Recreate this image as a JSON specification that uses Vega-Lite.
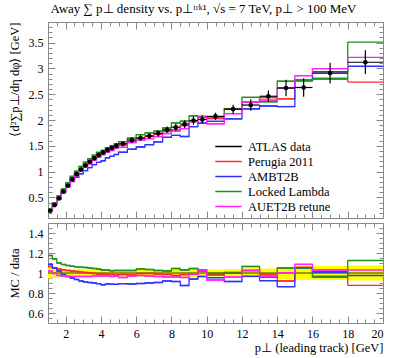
{
"$schema": "https://vega.github.io/schema/vega-lite/v6.json",
"config": {"font": "Liberation Serif", "view": {"stroke": "#888", "strokeWidth": 1},
 "axis": {"domain": false, "grid": false, "tickColor": "#888", "labelFont": "Liberation Serif", "labelFontSize": 12, "labelColor": "#000", "titleFont": "Liberation Serif", "titleFontSize": 12.5, "titleFontWeight": "normal", "titleColor": "#000"},
 "legend": {"labelFont": "Liberation Serif", "labelFontSize": 12.5, "labelColor": "#000"},
 "text": {"font": "Liberation Serif"}},
"title": {"text": "Away ∑ p⊥ density vs. p⊥ᵗʳᵏ¹, √s = 7 TeV, p⊥ > 100 MeV", "anchor": "start", "fontSize": 13, "fontWeight": "normal", "font": "Liberation Serif", "offset": 5, "dx": 43},
"padding": {"left": 7, "right": 12, "top": 3, "bottom": 2},
"spacing": 5,
"bounds": "flush",
"datasets": {
"data": [
{"lo":1,"hi":1.25,"x":1.125,"y":0.24,"err":0.013,"blo":0.945,"bhi":1.055},
{"lo":1.25,"hi":1.5,"x":1.375,"y":0.35,"err":0.018,"blo":0.95,"bhi":1.05},
{"lo":1.5,"hi":1.75,"x":1.625,"y":0.48,"err":0.022,"blo":0.955,"bhi":1.045},
{"lo":1.75,"hi":2,"x":1.875,"y":0.61,"err":0.027,"blo":0.955,"bhi":1.045},
{"lo":2,"hi":2.25,"x":2.125,"y":0.73,"err":0.029,"blo":0.96,"bhi":1.04},
{"lo":2.25,"hi":2.5,"x":2.375,"y":0.85,"err":0.034,"blo":0.96,"bhi":1.04},
{"lo":2.5,"hi":2.75,"x":2.625,"y":0.95,"err":0.038,"blo":0.96,"bhi":1.04},
{"lo":2.75,"hi":3,"x":2.875,"y":1.04,"err":0.042,"blo":0.96,"bhi":1.04},
{"lo":3,"hi":3.25,"x":3.125,"y":1.12,"err":0.039,"blo":0.965,"bhi":1.035},
{"lo":3.25,"hi":3.5,"x":3.375,"y":1.19,"err":0.042,"blo":0.965,"bhi":1.035},
{"lo":3.5,"hi":3.75,"x":3.625,"y":1.26,"err":0.044,"blo":0.965,"bhi":1.035},
{"lo":3.75,"hi":4,"x":3.875,"y":1.32,"err":0.046,"blo":0.965,"bhi":1.035},
{"lo":4,"hi":4.25,"x":4.125,"y":1.37,"err":0.048,"blo":0.965,"bhi":1.035},
{"lo":4.25,"hi":4.5,"x":4.375,"y":1.42,"err":0.05,"blo":0.965,"bhi":1.035},
{"lo":4.5,"hi":4.75,"x":4.625,"y":1.46,"err":0.051,"blo":0.965,"bhi":1.035},
{"lo":4.75,"hi":5,"x":4.875,"y":1.5,"err":0.053,"blo":0.965,"bhi":1.035},
{"lo":5,"hi":5.5,"x":5.25,"y":1.54,"err":0.054,"blo":0.965,"bhi":1.035},
{"lo":5.5,"hi":6,"x":5.75,"y":1.61,"err":0.056,"blo":0.965,"bhi":1.035},
{"lo":6,"hi":6.5,"x":6.25,"y":1.65,"err":0.058,"blo":0.965,"bhi":1.035},
{"lo":6.5,"hi":7,"x":6.75,"y":1.69,"err":0.059,"blo":0.965,"bhi":1.035},
{"lo":7,"hi":7.5,"x":7.25,"y":1.74,"err":0.061,"blo":0.965,"bhi":1.035},
{"lo":7.5,"hi":8,"x":7.75,"y":1.81,"err":0.063,"blo":0.965,"bhi":1.035},
{"lo":8,"hi":8.5,"x":8.25,"y":1.86,"err":0.074,"blo":0.96,"bhi":1.04},
{"lo":8.5,"hi":9,"x":8.75,"y":1.92,"err":0.077,"blo":0.96,"bhi":1.04},
{"lo":9,"hi":9.5,"x":9.25,"y":1.99,"err":0.08,"blo":0.96,"bhi":1.04},
{"lo":9.5,"hi":10,"x":9.75,"y":2.01,"err":0.08,"blo":0.96,"bhi":1.04},
{"lo":10,"hi":11,"x":10.5,"y":2.07,"err":0.072,"blo":0.965,"bhi":1.035},
{"lo":11,"hi":12,"x":11.5,"y":2.21,"err":0.088,"blo":0.96,"bhi":1.04},
{"lo":12,"hi":13,"x":12.5,"y":2.29,"err":0.11,"blo":0.952,"bhi":1.048},
{"lo":13,"hi":14,"x":13.5,"y":2.46,"err":0.11,"blo":0.955,"bhi":1.045},
{"lo":14,"hi":15,"x":14.5,"y":2.62,"err":0.16,"blo":0.939,"bhi":1.061},
{"lo":15,"hi":16,"x":15.5,"y":2.63,"err":0.18,"blo":0.932,"bhi":1.068},
{"lo":16,"hi":18,"x":17,"y":2.91,"err":0.2,"blo":0.931,"bhi":1.069},
{"lo":18,"hi":20,"x":19,"y":3.12,"err":0.23,"blo":0.926,"bhi":1.074}
],
"mc": [
{"gen":"Perugia 2011","lo":1,"hi":1.25,"val":0.256,"ratio":1.065},
{"gen":"Perugia 2011","lo":1.25,"hi":1.5,"val":0.368,"ratio":1.05},
{"gen":"Perugia 2011","lo":1.5,"hi":1.75,"val":0.499,"ratio":1.04},
{"gen":"Perugia 2011","lo":1.75,"hi":2,"val":0.628,"ratio":1.03},
{"gen":"Perugia 2011","lo":2,"hi":2.25,"val":0.748,"ratio":1.025},
{"gen":"Perugia 2011","lo":2.25,"hi":2.5,"val":0.867,"ratio":1.02},
{"gen":"Perugia 2011","lo":2.5,"hi":2.75,"val":0.964,"ratio":1.015},
{"gen":"Perugia 2011","lo":2.75,"hi":3,"val":1.05,"ratio":1.01},
{"gen":"Perugia 2011","lo":3,"hi":3.25,"val":1.126,"ratio":1.005},
{"gen":"Perugia 2011","lo":3.25,"hi":3.5,"val":1.19,"ratio":1.0},
{"gen":"Perugia 2011","lo":3.5,"hi":3.75,"val":1.254,"ratio":0.995},
{"gen":"Perugia 2011","lo":3.75,"hi":4,"val":1.307,"ratio":0.99},
{"gen":"Perugia 2011","lo":4,"hi":4.25,"val":1.356,"ratio":0.99},
{"gen":"Perugia 2011","lo":4.25,"hi":4.5,"val":1.399,"ratio":0.985},
{"gen":"Perugia 2011","lo":4.5,"hi":4.75,"val":1.438,"ratio":0.985},
{"gen":"Perugia 2011","lo":4.75,"hi":5,"val":1.47,"ratio":0.98},
{"gen":"Perugia 2011","lo":5,"hi":5.5,"val":1.517,"ratio":0.985},
{"gen":"Perugia 2011","lo":5.5,"hi":6,"val":1.578,"ratio":0.98},
{"gen":"Perugia 2011","lo":6,"hi":6.5,"val":1.642,"ratio":0.995},
{"gen":"Perugia 2011","lo":6.5,"hi":7,"val":1.682,"ratio":0.995},
{"gen":"Perugia 2011","lo":7,"hi":7.5,"val":1.723,"ratio":0.99},
{"gen":"Perugia 2011","lo":7.5,"hi":8,"val":1.783,"ratio":0.985},
{"gen":"Perugia 2011","lo":8,"hi":8.5,"val":1.814,"ratio":0.975},
{"gen":"Perugia 2011","lo":8.5,"hi":9,"val":1.891,"ratio":0.985},
{"gen":"Perugia 2011","lo":9,"hi":9.5,"val":1.97,"ratio":0.99},
{"gen":"Perugia 2011","lo":9.5,"hi":10,"val":2.07,"ratio":1.03},
{"gen":"Perugia 2011","lo":10,"hi":11,"val":2.029,"ratio":0.98},
{"gen":"Perugia 2011","lo":11,"hi":12,"val":2.221,"ratio":1.005},
{"gen":"Perugia 2011","lo":12,"hi":13,"val":2.347,"ratio":1.025},
{"gen":"Perugia 2011","lo":13,"hi":14,"val":2.435,"ratio":0.99},
{"gen":"Perugia 2011","lo":14,"hi":15,"val":2.41,"ratio":0.92},
{"gen":"Perugia 2011","lo":15,"hi":16,"val":2.78,"ratio":1.057},
{"gen":"Perugia 2011","lo":16,"hi":18,"val":2.794,"ratio":0.96},
{"gen":"Perugia 2011","lo":18,"hi":20,"val":2.736,"ratio":0.877},
{"gen":"AMBT2B","lo":1,"hi":1.25,"val":0.26,"ratio":1.085},
{"gen":"AMBT2B","lo":1.25,"hi":1.5,"val":0.368,"ratio":1.05},
{"gen":"AMBT2B","lo":1.5,"hi":1.75,"val":0.49,"ratio":1.02},
{"gen":"AMBT2B","lo":1.75,"hi":2,"val":0.601,"ratio":0.985},
{"gen":"AMBT2B","lo":2,"hi":2.25,"val":0.704,"ratio":0.965},
{"gen":"AMBT2B","lo":2.25,"hi":2.5,"val":0.808,"ratio":0.95},
{"gen":"AMBT2B","lo":2.5,"hi":2.75,"val":0.888,"ratio":0.935},
{"gen":"AMBT2B","lo":2.75,"hi":3,"val":0.957,"ratio":0.92},
{"gen":"AMBT2B","lo":3,"hi":3.25,"val":1.019,"ratio":0.91},
{"gen":"AMBT2B","lo":3.25,"hi":3.5,"val":1.077,"ratio":0.905},
{"gen":"AMBT2B","lo":3.5,"hi":3.75,"val":1.134,"ratio":0.9},
{"gen":"AMBT2B","lo":3.75,"hi":4,"val":1.179,"ratio":0.893},
{"gen":"AMBT2B","lo":4,"hi":4.25,"val":1.208,"ratio":0.882},
{"gen":"AMBT2B","lo":4.25,"hi":4.5,"val":1.264,"ratio":0.89},
{"gen":"AMBT2B","lo":4.5,"hi":4.75,"val":1.296,"ratio":0.888},
{"gen":"AMBT2B","lo":4.75,"hi":5,"val":1.331,"ratio":0.887},
{"gen":"AMBT2B","lo":5,"hi":5.5,"val":1.375,"ratio":0.893},
{"gen":"AMBT2B","lo":5.5,"hi":6,"val":1.433,"ratio":0.89},
{"gen":"AMBT2B","lo":6,"hi":6.5,"val":1.477,"ratio":0.895},
{"gen":"AMBT2B","lo":6.5,"hi":7,"val":1.521,"ratio":0.9},
{"gen":"AMBT2B","lo":7,"hi":7.5,"val":1.575,"ratio":0.905},
{"gen":"AMBT2B","lo":7.5,"hi":8,"val":1.665,"ratio":0.92},
{"gen":"AMBT2B","lo":8,"hi":8.5,"val":1.702,"ratio":0.915},
{"gen":"AMBT2B","lo":8.5,"hi":9,"val":1.68,"ratio":0.875},
{"gen":"AMBT2B","lo":9,"hi":9.5,"val":1.871,"ratio":0.94},
{"gen":"AMBT2B","lo":9.5,"hi":10,"val":1.94,"ratio":0.965},
{"gen":"AMBT2B","lo":10,"hi":11,"val":1.973,"ratio":0.953},
{"gen":"AMBT2B","lo":11,"hi":12,"val":2.022,"ratio":0.915},
{"gen":"AMBT2B","lo":12,"hi":13,"val":2.214,"ratio":0.967},
{"gen":"AMBT2B","lo":13,"hi":14,"val":2.271,"ratio":0.923},
{"gen":"AMBT2B","lo":14,"hi":15,"val":2.261,"ratio":0.863},
{"gen":"AMBT2B","lo":15,"hi":16,"val":2.762,"ratio":1.05},
{"gen":"AMBT2B","lo":16,"hi":18,"val":2.939,"ratio":1.01},
{"gen":"AMBT2B","lo":18,"hi":20,"val":3.042,"ratio":0.975},
{"gen":"Locked Lambda","lo":1,"hi":1.25,"val":0.282,"ratio":1.175},
{"gen":"Locked Lambda","lo":1.25,"hi":1.5,"val":0.399,"ratio":1.14},
{"gen":"Locked Lambda","lo":1.5,"hi":1.75,"val":0.528,"ratio":1.1},
{"gen":"Locked Lambda","lo":1.75,"hi":2,"val":0.662,"ratio":1.085},
{"gen":"Locked Lambda","lo":2,"hi":2.25,"val":0.785,"ratio":1.075},
{"gen":"Locked Lambda","lo":2.25,"hi":2.5,"val":0.908,"ratio":1.068},
{"gen":"Locked Lambda","lo":2.5,"hi":2.75,"val":1.009,"ratio":1.062},
{"gen":"Locked Lambda","lo":2.75,"hi":3,"val":1.1,"ratio":1.058},
{"gen":"Locked Lambda","lo":3,"hi":3.25,"val":1.182,"ratio":1.055},
{"gen":"Locked Lambda","lo":3.25,"hi":3.5,"val":1.25,"ratio":1.05},
{"gen":"Locked Lambda","lo":3.5,"hi":3.75,"val":1.317,"ratio":1.045},
{"gen":"Locked Lambda","lo":3.75,"hi":4,"val":1.373,"ratio":1.04},
{"gen":"Locked Lambda","lo":4,"hi":4.25,"val":1.411,"ratio":1.03},
{"gen":"Locked Lambda","lo":4.25,"hi":4.5,"val":1.463,"ratio":1.03},
{"gen":"Locked Lambda","lo":4.5,"hi":4.75,"val":1.492,"ratio":1.022},
{"gen":"Locked Lambda","lo":4.75,"hi":5,"val":1.538,"ratio":1.025},
{"gen":"Locked Lambda","lo":5,"hi":5.5,"val":1.579,"ratio":1.025},
{"gen":"Locked Lambda","lo":5.5,"hi":6,"val":1.65,"ratio":1.025},
{"gen":"Locked Lambda","lo":6,"hi":6.5,"val":1.716,"ratio":1.04},
{"gen":"Locked Lambda","lo":6.5,"hi":7,"val":1.749,"ratio":1.035},
{"gen":"Locked Lambda","lo":7,"hi":7.5,"val":1.784,"ratio":1.025},
{"gen":"Locked Lambda","lo":7.5,"hi":8,"val":1.846,"ratio":1.02},
{"gen":"Locked Lambda","lo":8,"hi":8.5,"val":1.944,"ratio":1.045},
{"gen":"Locked Lambda","lo":8.5,"hi":9,"val":1.978,"ratio":1.03},
{"gen":"Locked Lambda","lo":9,"hi":9.5,"val":2.08,"ratio":1.045},
{"gen":"Locked Lambda","lo":9.5,"hi":10,"val":2.05,"ratio":1.02},
{"gen":"Locked Lambda","lo":10,"hi":11,"val":2.06,"ratio":0.995},
{"gen":"Locked Lambda","lo":11,"hi":12,"val":2.21,"ratio":1.0},
{"gen":"Locked Lambda","lo":12,"hi":13,"val":2.439,"ratio":1.065},
{"gen":"Locked Lambda","lo":13,"hi":14,"val":2.354,"ratio":0.957},
{"gen":"Locked Lambda","lo":14,"hi":15,"val":2.751,"ratio":1.05},
{"gen":"Locked Lambda","lo":15,"hi":16,"val":2.762,"ratio":1.05},
{"gen":"Locked Lambda","lo":16,"hi":18,"val":2.808,"ratio":0.965},
{"gen":"Locked Lambda","lo":18,"hi":20,"val":3.51,"ratio":1.125},
{"gen":"AUET2B retune","lo":1,"hi":1.25,"val":0.245,"ratio":1.02},
{"gen":"AUET2B retune","lo":1.25,"hi":1.5,"val":0.348,"ratio":0.995},
{"gen":"AUET2B retune","lo":1.5,"hi":1.75,"val":0.468,"ratio":0.975},
{"gen":"AUET2B retune","lo":1.75,"hi":2,"val":0.592,"ratio":0.97},
{"gen":"AUET2B retune","lo":2,"hi":2.25,"val":0.704,"ratio":0.965},
{"gen":"AUET2B retune","lo":2.25,"hi":2.5,"val":0.82,"ratio":0.965},
{"gen":"AUET2B retune","lo":2.5,"hi":2.75,"val":0.917,"ratio":0.965},
{"gen":"AUET2B retune","lo":2.75,"hi":3,"val":1.004,"ratio":0.965},
{"gen":"AUET2B retune","lo":3,"hi":3.25,"val":1.081,"ratio":0.965},
{"gen":"AUET2B retune","lo":3.25,"hi":3.5,"val":1.148,"ratio":0.965},
{"gen":"AUET2B retune","lo":3.5,"hi":3.75,"val":1.222,"ratio":0.97},
{"gen":"AUET2B retune","lo":3.75,"hi":4,"val":1.28,"ratio":0.97},
{"gen":"AUET2B retune","lo":4,"hi":4.25,"val":1.329,"ratio":0.97},
{"gen":"AUET2B retune","lo":4.25,"hi":4.5,"val":1.377,"ratio":0.97},
{"gen":"AUET2B retune","lo":4.5,"hi":4.75,"val":1.409,"ratio":0.965},
{"gen":"AUET2B retune","lo":4.75,"hi":5,"val":1.455,"ratio":0.97},
{"gen":"AUET2B retune","lo":5,"hi":5.5,"val":1.471,"ratio":0.955},
{"gen":"AUET2B retune","lo":5.5,"hi":6,"val":1.562,"ratio":0.97},
{"gen":"AUET2B retune","lo":6,"hi":6.5,"val":1.609,"ratio":0.975},
{"gen":"AUET2B retune","lo":6.5,"hi":7,"val":1.639,"ratio":0.97},
{"gen":"AUET2B retune","lo":7,"hi":7.5,"val":1.679,"ratio":0.965},
{"gen":"AUET2B retune","lo":7.5,"hi":8,"val":1.738,"ratio":0.96},
{"gen":"AUET2B retune","lo":8,"hi":8.5,"val":1.786,"ratio":0.96},
{"gen":"AUET2B retune","lo":8.5,"hi":9,"val":1.834,"ratio":0.955},
{"gen":"AUET2B retune","lo":9,"hi":9.5,"val":1.97,"ratio":0.99},
{"gen":"AUET2B retune","lo":9.5,"hi":10,"val":2.06,"ratio":1.025},
{"gen":"AUET2B retune","lo":10,"hi":11,"val":1.925,"ratio":0.93},
{"gen":"AUET2B retune","lo":11,"hi":12,"val":2.122,"ratio":0.96},
{"gen":"AUET2B retune","lo":12,"hi":13,"val":2.347,"ratio":1.025},
{"gen":"AUET2B retune","lo":13,"hi":14,"val":2.386,"ratio":0.97},
{"gen":"AUET2B retune","lo":14,"hi":15,"val":2.62,"ratio":1.0},
{"gen":"AUET2B retune","lo":15,"hi":16,"val":2.859,"ratio":1.087},
{"gen":"AUET2B retune","lo":16,"hi":18,"val":2.997,"ratio":1.03},
{"gen":"AUET2B retune","lo":18,"hi":20,"val":3.214,"ratio":1.03}
]
},
"vconcat": [
{
 "width": 335, "height": 196,
 "layer": [
  {"data": {"name": "mc"}, "mark": {"type": "rule", "strokeWidth": 1.3},
   "encoding": {
    "x": {"field": "lo", "type": "quantitative", "scale": {"domain": [1, 20], "nice": false, "zero": false},
      "axis": {"orient": "bottom", "values": [1,1.5,2,2.5,3,3.5,4,4.5,5,5.5,6,6.5,7,7.5,8,8.5,9,9.5,10,10.5,11,11.5,12,12.5,13,13.5,14,14.5,15,15.5,16,16.5,17,17.5,18,18.5,19,19.5,20], "labels": false, "title": null,
        "tickSize": {"condition": {"test": "datum.value % 2 == 0", "value": -7}, "value": -4}}},
    "x2": {"field": "hi"},
    "y": {"field": "val", "type": "quantitative", "scale": {"domain": [0.1, 3.9], "nice": false, "zero": false},
      "axis": {"orient": "left", "values": [0.1,0.2,0.3,0.4,0.5,0.6,0.7,0.8,0.9,1,1.1,1.2,1.3,1.4,1.5,1.6,1.7,1.8,1.9,2,2.1,2.2,2.3,2.4,2.5,2.6,2.7,2.8,2.9,3,3.1,3.2,3.3,3.4,3.5,3.6,3.7,3.8,3.9],
        "labelExpr": "abs(datum.value*2-round(datum.value*2))<0.001 ? format(datum.value, '~g') : ''",
        "tickSize": {"condition": {"test": "abs(datum.value*2-round(datum.value*2))<0.001", "value": -7}, "value": -4},
        "labelPadding": 12, "title": "⟨d²∑p⊥/dη dφ⟩ [GeV]", "titleAnchor": "end", "titlePadding": 7}},
    "color": {"field": "gen", "type": "nominal",
      "scale": {"domain": ["ATLAS data", "Perugia 2011", "AMBT2B", "Locked Lambda", "AUET2B retune"], "range": ["#000000", "#ff2a2a", "#3030ff", "#1f8f1f", "#ff22ff"]},
      "legend": {"orient": "none", "legendX": 166, "legendY": 118, "title": null, "symbolType": "stroke", "symbolSize": 700, "symbolStrokeWidth": 1.6, "labelFontSize": 12.5, "rowPadding": 2, "labelOffset": 5, "clipHeight": 13}}
   }},
  {"data": {"name": "mc"}, "mark": {"type": "line", "interpolate": "step-after", "strokeWidth": 1.3},
   "encoding": {
    "x": {"field": "lo", "type": "quantitative", "axis": null},
    "y": {"field": "val", "type": "quantitative", "axis": null},
    "color": {"field": "gen", "type": "nominal"}
   }},
  {"data": {"name": "data"}, "mark": {"type": "errorbar", "color": "#000", "thickness": 1.2},
   "encoding": {
    "x": {"field": "x", "type": "quantitative", "axis": null},
    "y": {"field": "y", "type": "quantitative", "axis": null},
    "yError": {"field": "err"}
   }},
  {"data": {"name": "data"}, "mark": {"type": "rule", "color": "#000", "strokeWidth": 1.2},
   "encoding": {
    "x": {"field": "lo", "type": "quantitative", "axis": null},
    "x2": {"field": "hi"},
    "y": {"field": "y", "type": "quantitative", "axis": null}
   }},
  {"data": {"name": "data"}, "mark": {"type": "point", "filled": true, "color": "#000", "opacity": 1, "size": 22},
   "encoding": {
    "x": {"field": "x", "type": "quantitative",
      "axis": {"orient": "top", "values": [1,1.5,2,2.5,3,3.5,4,4.5,5,5.5,6,6.5,7,7.5,8,8.5,9,9.5,10,10.5,11,11.5,12,12.5,13,13.5,14,14.5,15,15.5,16,16.5,17,17.5,18,18.5,19,19.5,20], "labels": false, "title": null,
        "tickSize": {"condition": {"test": "datum.value % 2 == 0", "value": -7}, "value": -4}}},
    "y": {"field": "y", "type": "quantitative",
      "axis": {"orient": "right", "values": [0.1,0.2,0.3,0.4,0.5,0.6,0.7,0.8,0.9,1,1.1,1.2,1.3,1.4,1.5,1.6,1.7,1.8,1.9,2,2.1,2.2,2.3,2.4,2.5,2.6,2.7,2.8,2.9,3,3.1,3.2,3.3,3.4,3.5,3.6,3.7,3.8,3.9], "labels": false, "title": null,
        "tickSize": {"condition": {"test": "abs(datum.value*2-round(datum.value*2))<0.001", "value": -7}, "value": -4}}}
   }}
 ],
 "resolve": {"axis": {"x": "independent", "y": "independent"}}
},
{
 "width": 335, "height": 100,
 "layer": [
  {"data": {"name": "data"}, "mark": {"type": "rect", "color": "#ffff00"},
   "encoding": {
    "x": {"field": "lo", "type": "quantitative", "scale": {"domain": [1, 20], "nice": false, "zero": false},
      "axis": {"orient": "bottom", "values": [1,1.5,2,2.5,3,3.5,4,4.5,5,5.5,6,6.5,7,7.5,8,8.5,9,9.5,10,10.5,11,11.5,12,12.5,13,13.5,14,14.5,15,15.5,16,16.5,17,17.5,18,18.5,19,19.5,20],
        "labelExpr": "datum.value % 2 == 0 ? format(datum.value, '~g') : ''",
        "tickSize": {"condition": {"test": "datum.value % 2 == 0", "value": -7}, "value": -4},
        "labelPadding": 12, "title": "p⊥ (leading track) [GeV]", "titleAnchor": "end", "titlePadding": 2}},
    "x2": {"field": "hi"},
    "y": {"field": "blo", "type": "quantitative", "scale": {"domain": [0.5, 1.5], "nice": false, "zero": false},
      "axis": {"orient": "left", "values": [0.55,0.6,0.65,0.7,0.75,0.8,0.85,0.9,0.95,1,1.05,1.1,1.15,1.2,1.25,1.3,1.35,1.4,1.45],
        "labelExpr": "abs(datum.value*5-round(datum.value*5))<0.001 ? format(datum.value, '~g') : ''",
        "tickSize": {"condition": {"test": "abs(datum.value*5-round(datum.value*5))<0.001", "value": -7}, "value": -4},
        "labelPadding": 12, "title": "MC / data", "titlePadding": 7}},
    "y2": {"field": "bhi"}
   }},
  {"data": {"name": "data"}, "mark": {"type": "rule", "color": "#000", "strokeWidth": 0.8},
   "encoding": {
    "x": {"field": "lo", "type": "quantitative", "axis": null},
    "x2": {"field": "hi"},
    "y": {"datum": 1, "type": "quantitative", "axis": null}
   }},
  {"data": {"name": "mc"}, "mark": {"type": "rule", "strokeWidth": 1.3},
   "encoding": {
    "x": {"field": "lo", "type": "quantitative", "axis": null},
    "x2": {"field": "hi"},
    "y": {"field": "ratio", "type": "quantitative", "axis": null},
    "color": {"field": "gen", "type": "nominal", "scale": {"domain": ["ATLAS data", "Perugia 2011", "AMBT2B", "Locked Lambda", "AUET2B retune"], "range": ["#000000", "#ff2a2a", "#3030ff", "#1f8f1f", "#ff22ff"]}, "legend": null}
   }},
  {"data": {"name": "mc"}, "mark": {"type": "line", "interpolate": "step-after", "strokeWidth": 1.3},
   "encoding": {
    "x": {"field": "lo", "type": "quantitative", "axis": null},
    "y": {"field": "ratio", "type": "quantitative", "axis": null},
    "color": {"field": "gen", "type": "nominal", "legend": null}
   }},
  {"data": {"name": "data"}, "mark": {"type": "point", "opacity": 0},
   "encoding": {
    "x": {"field": "x", "type": "quantitative",
      "axis": {"orient": "top", "values": [1,1.5,2,2.5,3,3.5,4,4.5,5,5.5,6,6.5,7,7.5,8,8.5,9,9.5,10,10.5,11,11.5,12,12.5,13,13.5,14,14.5,15,15.5,16,16.5,17,17.5,18,18.5,19,19.5,20], "labels": false, "title": null,
        "tickSize": {"condition": {"test": "datum.value % 2 == 0", "value": -7}, "value": -4}}},
    "y": {"datum": 1, "type": "quantitative",
      "axis": {"orient": "right", "values": [0.55,0.6,0.65,0.7,0.75,0.8,0.85,0.9,0.95,1,1.05,1.1,1.15,1.2,1.25,1.3,1.35,1.4,1.45], "labels": false, "title": null,
        "tickSize": {"condition": {"test": "abs(datum.value*5-round(datum.value*5))<0.001", "value": -7}, "value": -4}}}
   }}
 ],
 "resolve": {"axis": {"x": "independent", "y": "independent"}}
}
]
}
